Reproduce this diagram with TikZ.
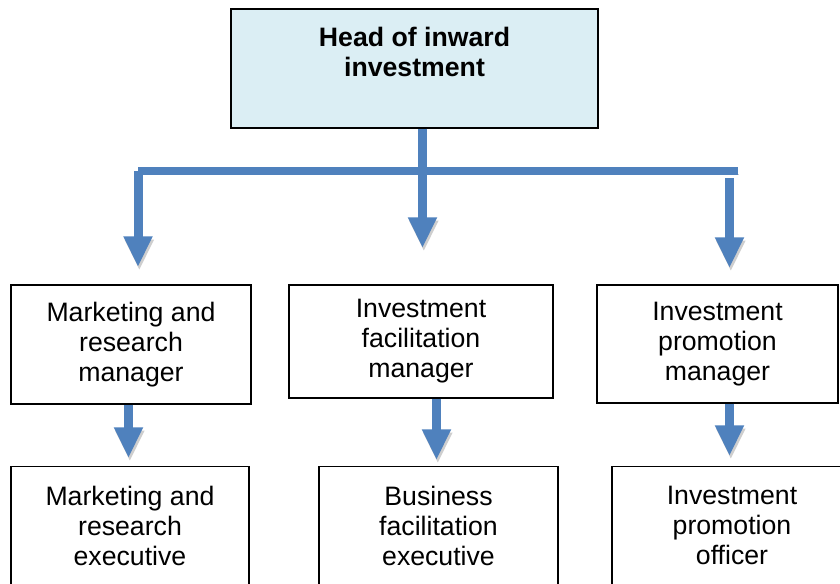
\documentclass[tikz,border=0pt]{standalone}
\usepackage{fontspec}
\setmainfont{Liberation Sans}
\usetikzlibrary{arrows.meta}
\definecolor{flowblue}{RGB}{79,129,189}
\definecolor{headfill}{RGB}{219,238,244}
\definecolor{shadowgray}{RGB}{206,206,206}
\tikzset{
    rolebox/.style={draw, line width=1.1pt, rectangle, align=center, inner sep=0pt,
        font=\fontsize{20}{22.5}\selectfont},
    headbox/.style={rolebox, fill=headfill, font=\fontsize{20}{23}\selectfont\bfseries},
    shade/.style={preaction={draw=shadowgray, transform canvas={xshift=1pt, yshift=-2.5pt}}},
    bar/.style={draw=flowblue, line width=6pt, shade},
    flow/.style={draw=flowblue, line width=6.75pt, -{Triangle[width=20.25pt, length=23pt]}, shade}
}
\begin{document}
\begin{tikzpicture}[x=0.75pt, y=-0.75pt]
    \useasboundingbox (0,0) rectangle (840,583);

    \node[headbox, minimum width=275.25pt, minimum height=89.25pt] (head) at (414.5,68.5)
        {Head of inward\\investment\\[2pt]\mbox{}};

    \begin{scope}[every node/.style={rolebox}]
        \node[minimum width=180pt, minimum height=89.25pt] (mkt) at (131,344.5)
            {Marketing and\\research\\manager};
        \node[minimum width=198pt, minimum height=84.75pt] (fac) at (421,341.5)
            {Investment\\facilitation\\manager};
        \node[minimum width=180.75pt, minimum height=88.5pt] (pro) at (717.5,344)
            {Investment\\promotion\\manager};

        \node[minimum width=178.5pt, minimum height=88.5pt, anchor=north] (mktx) at (130,466)
            {Marketing and\\research\\executive};
        \node[minimum width=179.25pt, minimum height=88.5pt, anchor=north] (facx) at (438.5,466)
            {Business\\facilitation\\executive};
        \node[minimum width=180pt, minimum height=88.5pt, anchor=north] (prox) at (732,466)
            {Investment\\promotion\\officer};
    \end{scope}

    \coordinate (barL) at (138,171);
    \coordinate (barR) at (738,171);
    \coordinate (protop) at (729.5,178);
    \coordinate (mkttip) at (138,267);
    \coordinate (factip) at (422.5,248);
    \coordinate (protip) at (729.5,268);
    \coordinate (mktxtip) at (128.5,458);
    \coordinate (facxtip) at (436.5,460);
    \coordinate (proxtip) at (729.5,456);

    \draw[bar] (barL) -- (barR);
    \draw[flow] (head.south -| factip) -- (factip);
    \draw[flow] (barL) -- (mkttip);
    \draw[flow] (protop) -- (protip);

    \draw[flow] (mkt.south -| mktxtip) -- (mktxtip);
    \draw[flow] (fac.south -| facxtip) -- (facxtip);
    \draw[flow] (pro.south -| proxtip) -- (proxtip);
\end{tikzpicture}
\end{document}
